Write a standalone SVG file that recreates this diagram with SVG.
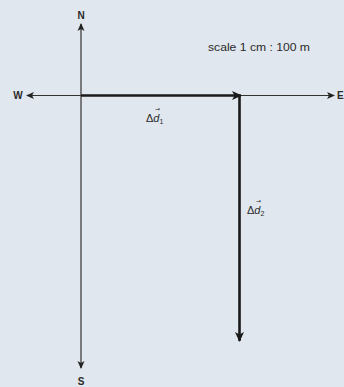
<svg xmlns="http://www.w3.org/2000/svg" width="344" height="387" viewBox="0 0 344 387">
<style>
.lbl{font-family:"Liberation Sans",Arial,sans-serif;font-size:10px;font-weight:bold;fill:#2a2a2a;}
.sc{font-family:"Liberation Sans",Arial,sans-serif;font-size:10px;fill:#2a2a2a;}
.dl{font-family:"Liberation Sans",Arial,sans-serif;font-size:11px;fill:#2a2a2a;}
.ar{font-family:"DejaVu Sans",sans-serif;font-size:6px;fill:#2a2a2a;}
.axis{stroke:#333;stroke-width:1.2;fill:none;}
.vec{stroke:#1a1a1a;stroke-width:2.6;fill:none;}
</style>
<defs>
<marker id="ah" markerWidth="8" markerHeight="8" refX="7" refY="4" orient="auto" markerUnits="userSpaceOnUse">
<path d="M0,0.5 L8,4 L0,7.5 L2,4 Z" fill="#222"/>
</marker>
<marker id="ahv" markerWidth="10" markerHeight="10" refX="9" refY="5" orient="auto" markerUnits="userSpaceOnUse">
<path d="M0,0.5 L10,5 L0,9.5 L2.5,5 Z" fill="#1a1a1a"/>
</marker>
</defs>
<rect width="344" height="387" fill="#e1e7ee"/>
<g id="connectors">
<line class="axis" x1="81" y1="96" x2="81" y2="24" marker-end="url(#ah)"/>
<line class="axis" x1="81" y1="96" x2="81" y2="368" marker-end="url(#ah)"/>
<line class="axis" x1="81" y1="95.5" x2="27" y2="95.5" marker-end="url(#ah)"/>
<line class="axis" x1="81" y1="95.5" x2="334" y2="95.5" marker-end="url(#ah)"/>
<line class="vec" x1="81" y1="95.5" x2="241" y2="95.5" marker-end="url(#ahv)"/>
<line class="vec" x1="239.5" y1="95" x2="239.5" y2="341" marker-end="url(#ahv)"/>
</g>
<g id="labels">
<text class="lbl" x="81" y="19" text-anchor="middle">N</text>
<text class="lbl" x="81" y="385" text-anchor="middle">S</text>
<text class="lbl" x="18" y="99" text-anchor="middle">W</text>
<text class="lbl" x="337" y="99">E</text>
<text class="sc" x="259" y="51" text-anchor="middle" textLength="102" lengthAdjust="spacingAndGlyphs">scale 1 cm : 100 m</text>
</g>
<g id="d1">
<text class="dl" x="146" y="122">Δ<tspan font-style="italic">d</tspan><tspan font-size="7" dy="2">1</tspan></text>
<text class="ar" x="155" y="111">→</text>
</g>
<g id="d2">
<text class="dl" x="247" y="214">Δ<tspan font-style="italic">d</tspan><tspan font-size="7" dy="2">2</tspan></text>
<text class="ar" x="256" y="203">→</text>
</g>
</svg>
